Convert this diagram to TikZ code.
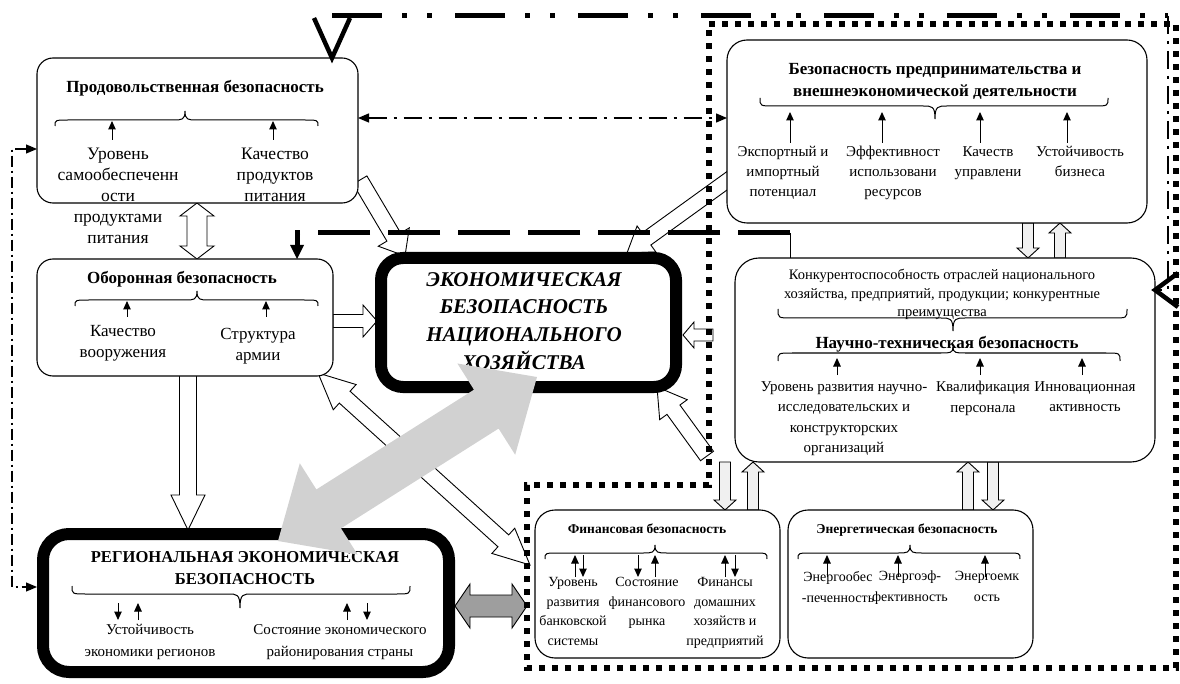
\documentclass[tikz,border=0pt]{standalone}
\usepackage{fontspec}
\setmainfont{Liberation Serif}
\usetikzlibrary{arrows.meta,calc}

\newcommand{\fsz}[2]{\fontsize{#1}{#2}\selectfont}

% single block arrow: style, x1, y1, x2, y2, shaft width, head width, head length
\newcommand{\blockarrow}[8]{%
  \pgfmathsetmacro\baAng{atan2((#3)-(#5),(#4)-(#2))}%
  \pgfmathsetmacro\baLen{veclen((#4)-(#2),(#5)-(#3))}%
  \pgfmathsetmacro\baS{(#6)/2}%
  \pgfmathsetmacro\baH{(#7)/2}%
  \pgfmathsetmacro\baB{\baLen-(#8)}%
  \draw[#1, shift={(#2,#3)}, rotate=\baAng]
    (0pt,-\baS pt) -- (\baB pt,-\baS pt) -- (\baB pt,-\baH pt) -- (\baLen pt,0pt)
    -- (\baB pt,\baH pt) -- (\baB pt,\baS pt) -- (0pt,\baS pt) -- cycle;}

% double-headed block arrow, same arguments
\newcommand{\dblockarrow}[8]{%
  \pgfmathsetmacro\baAng{atan2((#3)-(#5),(#4)-(#2))}%
  \pgfmathsetmacro\baLen{veclen((#4)-(#2),(#5)-(#3))}%
  \pgfmathsetmacro\baS{(#6)/2}%
  \pgfmathsetmacro\baH{(#7)/2}%
  \pgfmathsetmacro\baA{#8}%
  \pgfmathsetmacro\baB{\baLen-(#8)}%
  \draw[#1, shift={(#2,#3)}, rotate=\baAng]
    (0pt,0pt) -- (\baA pt,\baH pt) -- (\baA pt,\baS pt) -- (\baB pt,\baS pt)
    -- (\baB pt,\baH pt) -- (\baLen pt,0pt) -- (\baB pt,-\baH pt) -- (\baB pt,-\baS pt)
    -- (\baA pt,-\baS pt) -- (\baA pt,-\baH pt) -- cycle;}

% flat curly brace: x-left, x-tip, x-right, y of the flat part, end offset, tip offset
\newcommand{\curlybrace}[6]{%
  \draw[bracepen] ({#1},{#4+(#5)}) .. controls ({#1},{#4}) and ({#1},{#4}) .. ({#1+14},{#4})
   -- ({#2-12},{#4}) .. controls ({#2-3},{#4}) and ({#2},{#4}) .. ({#2},{#4+(#6)})
   .. controls ({#2},{#4}) and ({#2+3},{#4}) .. ({#2+12},{#4})
   -- ({#3-14},{#4}) .. controls ({#3},{#4}) and ({#3},{#4}) .. ({#3},{#4+(#5)});}

\begin{document}
\begin{tikzpicture}[x=1pt,y=-1pt,
  box/.style={draw, fill=white, line width=1.1pt, rounded corners=16pt, inner sep=0pt, outer sep=0pt, anchor=north west},
  heavybox/.style={draw, fill=white, line width=12pt, rounded corners=22pt, inner sep=0pt, outer sep=0pt, anchor=north west},
  txt/.style={inner sep=0pt, anchor=north, align=center},
  hollow/.style={draw, fill=white, line width=0.9pt, line join=miter},
  pale/.style={draw, fill=black!6, line width=0.9pt, line join=miter},
  bigshade/.style={fill=black!18, draw=none},
  midshade/.style={draw, fill=black!38, line width=0.9pt, line join=miter},
  bracepen/.style={line width=1pt},
  tick/.style={line width=1pt, -{Triangle[length=8.5pt,width=7.5pt]}},
  smalltip/.style={{Triangle[length=11pt,width=9pt]}-{Triangle[length=11pt,width=9pt]}},
  dashdotthin/.style={line width=1.3pt, dash pattern=on 18pt off 7pt on 3pt off 7pt},
  dashleft/.style={line width=1.2pt, dash pattern=on 11pt off 4pt on 2pt off 4pt},
  dashthick/.style={line width=5pt, dash pattern=on 52pt off 18pt},
  dashdotthick/.style={line width=5pt, dash pattern=on 50pt off 20pt on 5pt off 20pt on 5pt off 23pt},
  dottedframe/.style={line width=5.5pt, dash pattern=on 6pt off 7pt},
  openhead/.style={line width=4.5pt, line join=miter, line cap=butt}
]
\useasboundingbox (0,0) rectangle (1180,684);
\fill[white] (0,0) rectangle (1180,684);

% ---------- hollow block arrows between the blocks ----------
\dblockarrow{hollow}{197}{203}{197}{259}{20}{34}{13}
\blockarrow{hollow}{360}{180}{405}{256}{16}{36}{22}
\blockarrow{hollow}{735}{175}{627}{253}{15}{32}{24}
\blockarrow{hollow}{333}{321}{377}{321}{13}{32}{14}
\blockarrow{hollow}{713}{335}{683}{335}{12}{26}{11}
\dblockarrow{hollow}{318}{373}{530}{565}{16}{34}{36}
\blockarrow{hollow}{707}{456}{657}{387}{16}{34}{28}
\blockarrow{hollow}{188}{370}{188}{530}{17}{34}{35}
% small paired arrows
\blockarrow{pale}{1028}{223}{1028}{258}{11}{22}{10}
\blockarrow{pale}{1060}{258}{1060}{223}{11}{22}{10}
\blockarrow{pale}{725}{462}{725}{510}{11}{22}{10}
\blockarrow{pale}{753}{510}{753}{462}{11}{22}{10}
\blockarrow{pale}{968}{510}{968}{462}{11}{22}{10}
\blockarrow{pale}{993}{462}{993}{510}{11}{22}{10}

% ---------- blocks ----------
\node[box, minimum width=321pt, minimum height=145pt] (prod) at (37,58) {};
\node[box, minimum width=296pt, minimum height=117pt] (obor) at (37,259) {};
\node[heavybox, minimum width=295pt, minimum height=129pt] (econ) at (381,258) {};
\node[heavybox, rounded corners=26pt, minimum width=406pt, minimum height=138pt] (reg) at (43,534) {};
\node[box, rounded corners=20pt, minimum width=420pt, minimum height=183pt] (ent) at (727,40) {};
\node[box, rounded corners=24pt, minimum width=420pt, minimum height=204pt] (nt) at (735,258) {};
\node[box, rounded corners=20pt, minimum width=245pt, minimum height=148pt] (fin) at (535,510) {};
\node[box, rounded corners=20pt, minimum width=245pt, minimum height=148pt] (ener) at (788,510) {};

% ---------- food security ----------
\node[txt, font=\fsz{17}{20}\bfseries] (prodT) at (195,80) {Продовольственная безопасность};
\curlybrace{55}{185}{318}{120}{6}{-9}
\node[txt, font=\fsz{17.5}{21}] (prodA) at (118,148) {Уровень\\самообеспеченн\\ости\\продуктами\\питания};
\node[txt, font=\fsz{17.5}{21}] (prodB) at (275,148) {Качество\\продуктов\\питания};
\draw[tick] (112,140) -- (112,121);
\draw[tick] (273,140) -- (273,121);

% ---------- defence security ----------
\node[txt, font=\fsz{17}{20}\bfseries] (oborT) at (182,271) {Оборонная безопасность};
\curlybrace{75}{197}{318}{300}{6}{-9}
\node[txt, font=\fsz{17}{21}] (oborA) at (123,325) {Качество\\вооружения};
\node[txt, font=\fsz{17}{21}] (oborB) at (258,328) {Структура\\армии};
\draw[tick] (127,317) -- (127,301);
\draw[tick] (266,317) -- (266,301);

% ---------- national economic security ----------
\node[txt, font=\fsz{21}{27.7}\bfseries\itshape] (econT) at (524,272) {ЭКОНОМИЧЕСКАЯ\\БЕЗОПАСНОСТЬ\\НАЦИОНАЛЬНОГО\\ХОЗЯЙСТВА};

% ---------- regional economic security ----------
\node[txt, font=\fsz{16.6}{22}\bfseries] (regT) at (245,551) {РЕГИОНАЛЬНАЯ ЭКОНОМИЧЕСКАЯ\\БЕЗОПАСНОСТЬ};
\curlybrace{72}{240}{410}{594}{-8}{14}
\node[txt, font=\fsz{15}{22}] (regA) at (150,624) {Устойчивость\\экономики регионов};
\node[txt, font=\fsz{15}{22}] (regB) at (340,624) {Состояние экономического\\районирования страны};
\draw[tick] (118,603) -- (118,620);
\draw[tick] (138,620) -- (138,603);
\draw[tick] (347,620) -- (347,603);
\draw[tick] (367,603) -- (367,620);

% ---------- entrepreneurship and foreign trade ----------
\node[txt, font=\fsz{17}{22}\bfseries] (entT) at (935,63) {Безопасность предпринимательства и\\внешнеэкономической деятельности};
\curlybrace{760}{935}{1108}{106}{-8}{13}
\node[txt, font=\fsz{15}{20}] (entA) at (783,146) {Экспортный и\\импортный\\потенциал};
\node[txt, font=\fsz{15}{20}] (entB) at (893,146) {Эффективност\\использовани\\ресурсов};
\node[txt, font=\fsz{15}{20}] (entC) at (988,146) {Качеств\\управлени};
\node[txt, font=\fsz{15}{20}] (entD) at (1080,146) {Устойчивость\\бизнеса};
\draw[tick] (790,143) -- (790,112);
\draw[tick] (882,143) -- (882,112);
\draw[tick] (980,143) -- (980,112);
\draw[tick] (1067,143) -- (1067,112);

% ---------- science and technology ----------
\node[txt, font=\fsz{14.5}{18.5}] (ntK) at (942,269) {Конкурентоспособность отраслей национального\\хозяйства, предприятий, продукции; конкурентные\\преимущества};
\curlybrace{778}{953}{1127}{318}{-9}{13}
\node[txt, font=\fsz{17}{20}\bfseries] (ntT) at (947,336) {Научно-техническая безопасность};
\curlybrace{778}{953}{1120}{353}{8}{-6}
\node[txt, font=\fsz{15}{20.5}] (ntA) at (844,381) {Уровень развития научно-\\исследовательских и\\конструкторских\\организаций};
\node[txt, font=\fsz{15}{20.5}] (ntB) at (983,381) {Квалификация\\персонала};
\node[txt, font=\fsz{15}{20.5}] (ntC) at (1085,381) {Инновационная\\активность};
\draw[tick] (837,375) -- (837,358);
\draw[tick] (980,375) -- (980,358);
\draw[tick] (1082,375) -- (1082,358);

% ---------- financial security ----------
\node[txt, font=\fsz{13.5}{18}\bfseries] (finT) at (647,524) {Финансовая безопасность};
\curlybrace{545}{655}{767}{553}{6}{-8}
\node[txt, font=\fsz{14}{19.7}] (finA) at (573,577) {Уровень\\развития\\банковской\\системы};
\node[txt, font=\fsz{14}{19.7}] (finB) at (647,577) {Состояние\\финансового\\рынка};
\node[txt, font=\fsz{14}{19.7}] (finC) at (725,577) {Финансы\\домашних\\хозяйств и\\предприятий};
\draw[tick] (575,577) -- (575,555);
\draw[tick] (583,555) -- (583,577);
\draw[tick] (638,555) -- (638,577);
\draw[tick] (655,577) -- (655,555);
\draw[tick] (725,577) -- (725,555);
\draw[tick] (735,555) -- (735,577);

% ---------- energy security ----------
\node[txt, font=\fsz{13.5}{18}\bfseries] (enerT) at (907,524) {Энергетическая безопасность};
\curlybrace{798}{910}{1020}{553}{6}{-8}
\node[txt, font=\fsz{14}{21}] (enerA) at (838,571) {Энергообес\\-печенность};
\node[txt, font=\fsz{14}{21}] (enerB) at (910,571) {Энергоэф-\\фективность};
\node[txt, font=\fsz{14}{21}] (enerC) at (987,571) {Энергоемк\\ость};
\draw[tick] (827,577) -- (827,555);
\draw[tick] (898,577) -- (898,555);
\draw[tick] (985,577) -- (985,555);

% ---------- line connectors ----------
\coordinate (lvA) at (0,118);
\coordinate (lvB) at (0,149);
\coordinate (lvC) at (0,587);
\coordinate (lvD) at (0,290);
\coordinate (hzA) at (790,0);
\coordinate (hzB) at (297,0);
\coordinate (hzC) at (332,0);
\coordinate (turnA) at (12,149);
\coordinate (turnB) at (12,587);
\coordinate (turnC) at (790,233);
\coordinate (turnD) at (297,233);
\coordinate (turnE) at (332,16);
\coordinate (turnF) at (1168,16);
\coordinate (turnG) at (1168,290);

\draw[dashdotthin, smalltip] (prod.east |- lvA) -- (ent.west |- lvA);
\draw[dashleft, smalltip] (prod.west |- lvB) -- (turnA) -- (turnB) -- ([xshift=-6pt]reg.west |- lvC);

\draw[line width=1pt] (nt.north -| hzA) -- (turnC);
\draw[dashthick] (turnC) -- (turnD) -- ([yshift=13pt]obor.north -| hzB);
\fill ([yshift=14pt]obor.north -| hzB) ++(-7,0) -- ++(14,0) -- (obor.north -| hzB) -- cycle;

\draw[dashdotthick] (turnE) -- (turnF);
\draw[dashdotthin, line width=1.3pt] (turnF) -- (turnG) -- (nt.east |- lvD);
\draw[openhead] (314,18) -- (prod.north -| hzC) -- (350,18);
\draw[openhead] (1178,273) -- (nt.east |- lvD) -- (1178,307);

% ---------- shaded arrows ----------
\dblockarrow{bigshade}{278}{541}{537}{377}{46}{108}{60}
\dblockarrow{midshade}{455}{606}{527}{606}{22}{44}{15}

% ---------- frame around the economic-activity blocks ----------
\draw[dottedframe] (709,24) -- (1176,24) -- (1176,668) -- (527,668) -- (527,485) -- (709,485) -- cycle;

\end{tikzpicture}
\end{document}
